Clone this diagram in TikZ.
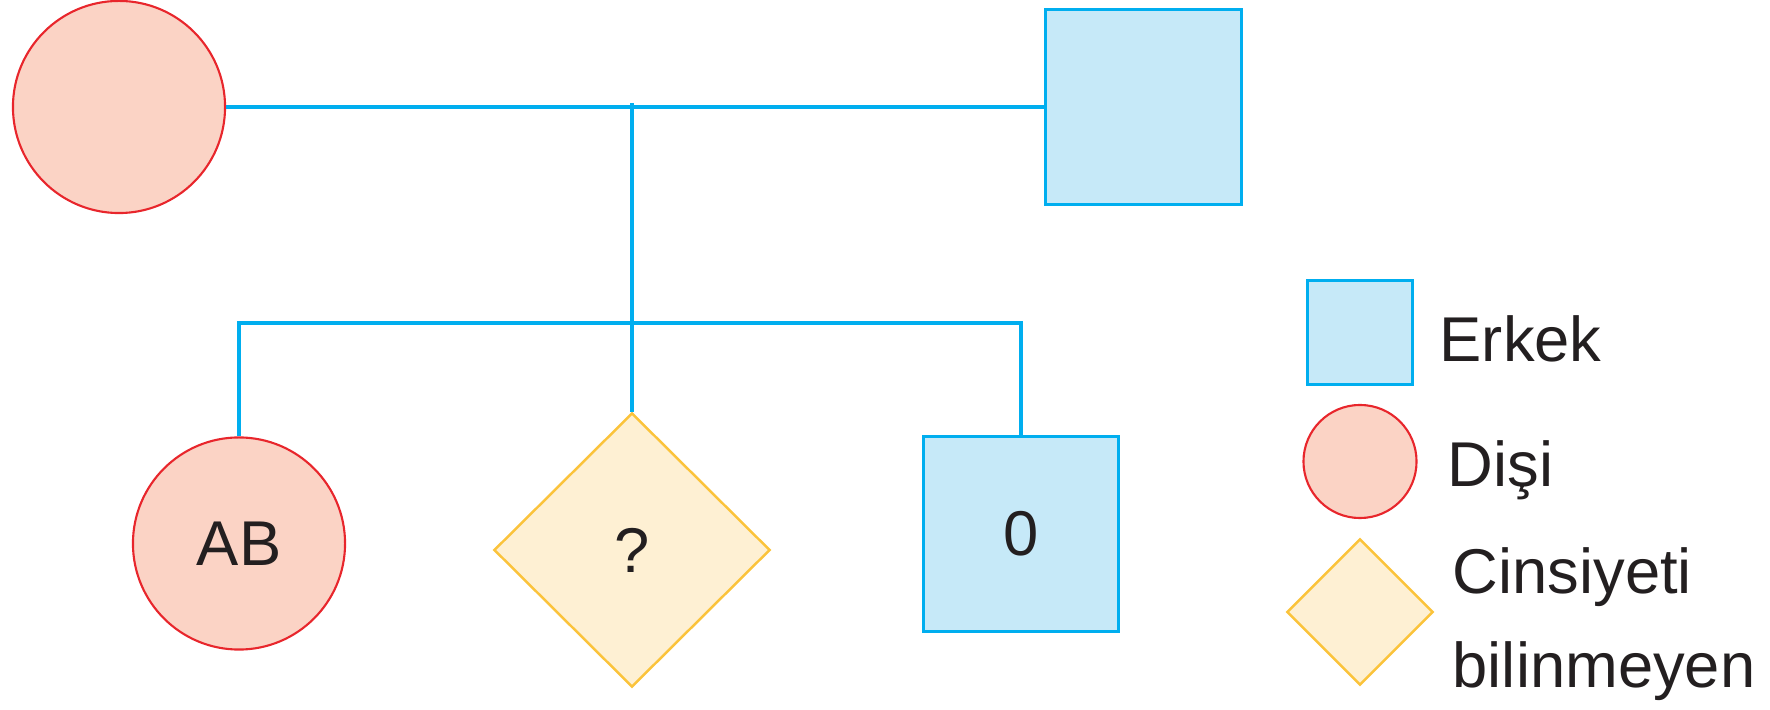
\documentclass[tikz,border=0pt]{standalone}
\usepackage{fontspec}
\setmainfont{Liberation Sans}
\usepackage{xcolor}
\usepackage{tikz}
\usetikzlibrary{shapes.geometric}
\definecolor{inkdark}{HTML}{231F20}
\definecolor{femalefill}{HTML}{FBD3C5}
\definecolor{femaleline}{HTML}{E8262C}
\definecolor{malefill}{HTML}{C6E9F8}
\definecolor{maleline}{HTML}{00AEEF}
\definecolor{unknownfill}{HTML}{FEF0D3}
\definecolor{unknownline}{HTML}{FBC33B}

\begin{document}
\begin{tikzpicture}[x=0.01cm,y=-0.01cm,
  text=inkdark,
  font=\fontsize{18}{27}\selectfont,
  femalenode/.style={circle,draw=femaleline,fill=femalefill,line width=0.6pt,inner sep=0pt},
  malenode/.style={rectangle,draw=maleline,fill=malefill,line width=0.85pt,inner sep=0pt},
  unknownnode/.style={diamond,draw=unknownline,fill=unknownfill,line width=0.7pt,inner sep=0pt},
  keytext/.style={anchor=base west,inner sep=0pt,align=left},
  link/.style={draw=maleline,line width=0.95pt}
]
\path[use as bounding box] (0,0) rectangle (1770,710);

% Parents
\node[femalenode,minimum size=2.12cm] (mother) at (119,107) {};
\node[malenode,minimum size=1.95cm] (father) at (1143.5,107) {};

% Children
\node[femalenode,minimum size=2.12cm] (daughter) at (239,543.5) {AB};
\node[unknownnode,minimum width=2.76cm,minimum height=2.74cm] (unknown) at (632,550) {?};
\node[malenode,minimum size=1.94cm] (son) at (1021,534) {0};

% Key
\node[malenode,minimum size=1.04cm] (keymale) at (1360,332.5) {};
\node[femalenode,minimum size=1.13cm] (keyfemale) at (1360,461.5) {};
\node[unknownnode,minimum width=1.46cm,minimum height=1.46cm] (keyunknown) at (1360,612) {};
\node[keytext] (keymaletext) at (1439,362) {Erkek};
\node[keytext] (keyfemaletext) at (1447,487) {Dişi};
\node[keytext] (keyunknowntext) at (1452,688) {Cinsiyeti\\bilinmeyen};

% Mating and descent lines
\coordinate (couple) at (632,103);
\coordinate (sibs) at (632,323);
\draw[link] (mother.east) -- (father.west);
\draw[link] (couple) -- (unknown.north);
\draw[link] (daughter.north) |- (sibs) -| (son.north);

\end{tikzpicture}
\end{document}
